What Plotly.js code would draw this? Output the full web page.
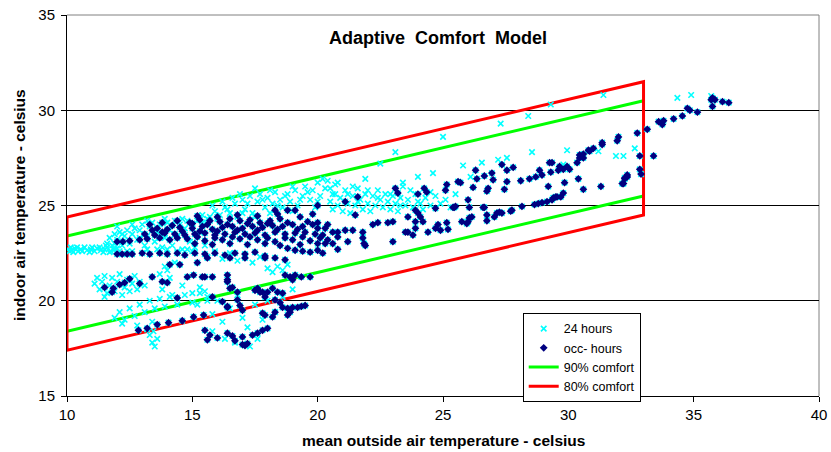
<!DOCTYPE html>
<html><head><meta charset="utf-8">
<script src="https://cdn.plot.ly/plotly-3.0.1.min.js"></script>
<style>html,body{margin:0;padding:0;background:#fff}#chart{width:831px;height:452px}</style>
</head><body><div id="chart"></div><script>
// ---- data ----
const xTicks = [10, 15, 20, 25, 30, 35, 40];
const yTicks = [15, 20, 25, 30, 35];

// 90% / 80% comfort limits at outside temperature 10 and 33
const comfortX = [10, 33];
const comfort90Upper = [23.4, 30.5];
const comfort90Lower = [18.4, 25.5];
const comfort80Upper = [24.4, 31.5];
const comfort80Lower = [17.4, 24.5];

// 24-hour points that are not occupied hours
const hours24Only = [
[10.05,22.7],[10.2,22.65],[10.3,22.75],[10.45,22.6],[10.55,22.7],[10.7,22.8],[10.8,22.65],[10.95,22.7],[11.1,22.6],[11.2,22.75],[11.35,22.65],[11.5,22.7],[11.6,22.8],[11.75,22.6],[11.85,22.7],[12.0,22.75],[10.15,22.8],[10.6,22.6],[11.0,22.8],[11.45,22.55],
[10.1,22.6],[10.4,22.8],[10.9,22.55],[11.3,22.8],[11.7,22.55],[12.1,22.6],[10.25,22.55],[11.55,22.9],[11.9,23.0],
[11.6,23.0],[11.7,23.3],[11.8,22.9],[11.9,23.5],[12.0,23.2],[12.1,23.6],[12.2,22.9],[12.3,23.4],[12.4,23.7],[12.5,23.0],[12.6,23.5],[12.7,23.8],[12.8,23.2],[12.9,23.7],[13.0,24.0],[13.1,22.9],[13.2,23.4],[13.3,23.9],[13.4,24.1],[13.5,23.1],[13.6,23.6],[13.7,24.0],[13.8,22.8],[13.9,23.3],[14.0,24.1],[14.1,23.7],[14.2,22.9],[14.3,24.2],[14.4,23.4],[14.5,24.0],[14.6,22.7],[14.7,23.8],[14.8,24.2],[14.9,23.1],[15.0,24.0],[15.1,22.8],[15.2,24.2],[15.3,23.6],[15.4,24.1],[15.5,22.9],[15.6,24.3],[12.2,23.5],[12.9,23.3],[13.6,22.7],[14.4,22.6],[15.0,22.6],[11.9,22.7],[12.6,22.6],
[12.0,23.9],[12.6,24.0],[13.2,24.2],[13.9,24.3],[14.6,24.3],[15.3,24.35],[12.4,22.6],[13.2,22.7],[14.0,22.7],[14.8,22.7],
[15.7,24.4],[15.9,24.7],[16.1,24.5],[16.3,24.9],[16.5,24.6],[16.7,25.1],[16.8,24.4],[17.0,25.3],[17.1,24.8],[17.3,25.5],[17.4,24.6],[17.6,25.2],[17.7,25.6],[17.9,24.9],[18.0,25.4],[18.2,25.1],[18.3,25.7],[18.5,25.3],[18.6,24.9],[18.8,25.6],[18.9,25.2],[19.1,25.8],[19.2,25.0],[19.4,25.5],[19.5,26.0],[19.7,25.3],[19.8,25.8],[20.0,26.2],[20.1,25.5],[20.3,25.9],[20.4,26.3],[20.6,25.6],[20.7,26.1],[16.2,25.2],[16.9,25.6],[17.5,25.9],[18.1,24.6],[19.0,24.7],[19.9,24.9],
[15.4,24.5],[15.8,25.0],[16.0,24.3],[16.4,24.8],[16.6,25.4],[17.0,24.6],[17.2,25.1],[17.5,24.4],[17.8,25.3],[18.1,25.8],[18.4,25.0],[18.7,25.5],[19.0,26.0],[19.3,25.3],[19.6,25.7],[20.0,25.2],[20.2,26.4],[20.5,25.9],[20.8,26.2],[21.2,25.6],[21.6,25.2],[22.0,25.8],[22.4,25.4],[22.9,25.6],[23.3,25.0],[23.7,25.8],[24.1,25.1],[24.5,25.7],
[20.5,25.2],[20.6,24.8],[20.7,25.6],[20.8,25.0],[20.9,25.4],[21.0,24.7],[21.1,25.8],[21.2,25.1],[21.3,24.6],[21.4,25.5],[21.5,25.0],[21.6,25.9],[21.7,25.3],[21.8,24.8],[21.9,25.6],[22.0,25.1],[22.1,24.7],[22.2,25.5],[22.3,25.0],[22.4,25.8],[22.5,25.3],[22.6,24.9],[22.7,25.6],[22.8,25.2],[22.9,24.8],[23.0,25.5],[23.1,25.1],[23.2,24.7],[23.3,25.4],[23.4,26.0],[23.5,25.0],[23.6,25.3],[23.8,24.9],[23.9,25.6],[24.0,25.2],[24.2,24.8],[24.3,25.4],[24.5,25.0],[24.7,25.5],[24.9,25.1],[25.1,25.3],[25.3,24.9],[25.5,25.6],
[11.1,20.9],[11.2,21.2],[11.3,20.6],[11.4,21.0],[11.5,21.3],[11.6,20.4],[11.7,20.8],[11.8,21.2],[11.9,20.5],[12.0,21.0],[12.1,21.4],[12.2,20.3],[12.3,20.7],[12.4,21.1],[12.5,20.5],[12.6,20.9],[12.7,21.3],[12.8,20.6],[11.5,20.2],[12.9,21.0],[13.1,20.8],
[13.7,21.4],[13.9,21.8],[14.1,21.2],[14.3,22.0],[14.0,21.6],[13.8,20.6],[14.2,20.3],[14.6,20.8],[15.0,20.4],[15.3,20.7],[15.6,20.2],
[11.9,19.1],[12.1,19.4],[12.3,19.0],[12.5,19.6],[12.7,19.2],[12.9,19.8],[13.1,19.4],[13.3,20.0],[13.5,19.6],[13.7,20.1],[13.9,19.7],[14.1,20.2],[14.4,19.8],[14.7,20.3],[15.0,19.9],[15.3,20.4],[15.6,20.0],[12.2,18.8],[12.8,18.7],[13.4,18.9],
[13.3,18.2],[13.4,17.8],[13.5,17.6],[13.6,18.0],[13.2,18.5],[13.45,18.4],
[15.6,22.3],[15.9,22.6],[16.2,22.2],[16.5,22.5],[16.8,22.1],[17.1,22.4],[17.4,22.0],[17.7,22.3],[18.0,21.7],[18.2,21.5],[18.4,21.8],[18.6,21.6],[18.8,21.9],
[15.2,19.8],[15.5,20.5],[15.8,19.3],[16.0,20.0],[16.2,18.9],[16.5,19.6],[16.8,20.3],[17.0,19.1],[17.2,18.6],[17.5,19.8],[17.8,19.0],[18.0,20.0],[18.3,19.4],[18.6,20.2],[19.0,20.6],[16.3,18.0],[16.7,17.8],[17.3,17.6],[17.6,18.0],[15.8,18.4],
[21.4,26.0],[21.9,26.4],[22.5,27.2],[23.1,27.8],[23.4,26.2],[24.0,26.5],[24.6,26.7],[25.0,28.6],[25.8,27.1],[26.1,26.5],[26.55,27.25],[27.2,27.4],[27.55,27.5],[27.3,29.3],[28.4,29.7],[28.55,27.8],[29.3,30.3],[29.8,27.15],[29.95,27.9],[31.2,27.85],[31.4,30.8],[31.9,27.6],[32.2,27.6],[32.65,28.0],[34.35,30.65],[34.9,30.8],[35.7,30.75]
];

// occupied hours (also part of the 24-hour series)
const occHours = [
[12.0,23.1],[12.23,23.1],[12.5,23.15],[12.9,23.2],[13.2,23.25],
[12.0,22.45],[12.2,22.45],[12.4,22.45],[12.6,22.45],
[13.0,22.5],[13.3,22.45],[13.7,22.5],[14.0,22.45],[14.4,22.5],[14.7,22.4],[15.1,22.5],[15.5,22.45],[15.9,22.5],[16.3,22.4],[16.7,22.5],[17.1,22.45],[17.5,22.55],[17.9,22.35],[18.3,22.25],
[13.3,24.0],[13.8,24.1],[14.4,24.2],[14.9,24.1],[15.3,24.25],[15.7,24.2],[16.1,24.15],[16.5,24.3],[16.9,24.2],[17.3,24.25],[17.7,24.1],[18.1,24.2],[18.5,24.3],
[13.6,23.8],[14.0,23.75],[14.5,23.85],[15.0,23.8],[15.4,23.9],[15.8,23.75],[16.2,23.85],[16.6,23.9],[17.0,23.8],[17.4,23.9],[17.8,23.85],[18.2,23.95],[18.6,23.9],[19.0,24.0],[19.4,23.9],[19.8,24.0],[20.0,23.8],
[13.1,23.5],[13.5,23.45],[13.9,23.55],[14.3,23.5],[14.7,23.45],[15.1,23.5],[15.5,23.55],[15.9,23.45],[16.3,23.5],[16.7,23.6],[17.1,23.5],[17.5,23.55],[17.9,23.45],[18.3,23.6],[18.7,23.5],[19.1,23.55],[19.5,23.6],[19.9,23.5],[20.2,23.45],
[14.1,23.2],[14.8,23.25],[15.5,23.15],[16.2,23.2],[16.9,23.25],[17.6,23.2],[18.3,23.1],[19.0,23.2],[19.7,23.15],[20.4,23.2],
[13.4,23.7],[13.8,23.6],[14.2,23.95],[14.6,23.65],[15.0,24.05],[15.3,23.65],[15.6,24.0],[16.0,23.65],[16.4,24.0],[16.8,23.7],[17.2,24.05],[17.6,23.7],[18.0,24.05],[18.4,23.75],[18.8,24.1],[19.2,23.75],[19.6,24.15],[20.0,24.1],[20.4,24.0],
[13.7,23.3],[14.4,23.3],[15.2,23.35],[15.9,23.3],[16.6,23.35],[17.3,23.35],[18.0,23.3],[18.7,23.3],[19.4,23.35],[20.1,23.3],[20.8,23.35],
[15.1,23.0],[15.8,22.95],[16.5,23.0],[17.2,22.95],[17.9,23.0],[18.5,22.9],[19.3,22.95],[20.0,23.0],
[15.2,24.45],[16.0,24.4],[16.8,24.5],[17.6,24.45],[18.4,24.55],[19.3,24.4],[19.8,24.55],
[18.8,22.75],[19.1,22.65],[19.4,22.6],[19.7,22.55],[20.0,22.65],[20.2,22.5],
[20.3,23.8],[20.6,23.6],[20.8,23.6],[21.1,23.7],[21.4,23.7],[21.8,23.6],[21.8,23.3],[21.85,23.0],[22.2,24.0],[22.4,24.1],[22.8,24.1],[23.0,24.15],
[20.3,23.0],[20.6,23.0],[20.8,22.7],[21.2,23.1],[21.9,22.9],[23.0,23.1],
[23.5,23.6],[23.8,23.45],[24.4,23.6],[24.7,23.8],[24.9,23.7],[25.2,23.75],
[21.5,24.5],[23.6,24.4],[23.9,24.75],[24.0,24.6],[24.1,24.4],[24.2,24.15],[23.9,24.15],[23.9,23.8],[23.6,23.6],[24.8,24.0],[25.15,24.1],[25.75,24.15],
[21.1,25.2],[21.6,25.45],[23.1,25.9],[23.2,25.65],[24.0,25.6],[24.25,25.9],[24.35,25.7],[25.15,26.1],[25.1,25.8],[25.6,26.25],[25.4,24.9],
[20.0,25.0],[18.3,24.75],[18.8,24.75],[19.1,24.75],
[24.7,24.85],[25.45,24.9],[26.05,24.9],[26.15,24.4],[26.0,24.15],[25.95,24.05],[26.6,24.9],[27.15,24.6],[27.25,24.65],[27.05,24.4],[26.75,24.5],[26.75,24.2],[27.7,24.7],[28.15,24.95],[28.8,25.1],[29.15,25.2],[29.5,25.45],[29.8,25.65],[29.2,26.0],[29.85,26.2],[30.4,26.4],[30.6,25.85],[31.3,26.0],[32.2,26.15],[32.25,26.45],[32.35,26.5],[32.85,26.9],[32.9,26.65],[32.85,27.6],[33.4,27.6],[33.15,29.0],[32.75,28.8],[32.0,28.6],[31.95,28.4],[31.35,28.3],[31.0,28.0],[30.85,27.85],[30.6,27.7],[30.45,27.5],[30.35,27.25],[29.95,27.05],[29.8,26.9],[29.65,27.05],[29.25,27.25],[29.35,27.25],[28.85,26.85],
[26.3,26.85],[26.35,26.4],[25.7,26.2],[26.65,26.55],[26.95,26.7],[27.35,27.15],[27.55,26.85],[27.8,27.0],[27.0,26.35],[26.8,25.9],[26.75,25.75],[27.55,26.25],[27.45,25.85],[28.1,26.3],[28.45,26.4],[28.7,26.5],[28.95,26.6],[29.3,26.75],[29.6,26.85],[30.05,26.9],
[29.7,25.45],[29.55,25.45],[29.4,25.4],[29.35,25.3],[28.95,25.15],[28.65,25.05],[27.75,24.75],[27.35,24.6],[26.65,24.9],[26.05,24.35],[26.0,25.3],[25.5,24.95],[26.2,25.95],
[30.45,27.65],[30.6,27.5],[30.8,27.9],[31.35,28.2],
[33.6,29.4],[33.75,29.25],[33.8,29.45],[34.2,29.55],[34.55,29.7],[34.75,30.1],[34.85,30.0],[35.15,29.9],[35.7,30.55],[35.75,30.65],[35.85,30.55],[35.75,30.2],[36.15,30.45],[36.4,30.4],
[32.35,26.6],[32.25,26.4],[32.15,26.15],
[15.4,21.25],[15.8,21.25],[16.4,21.35],[18.7,21.35],[19.1,21.35],[19.35,21.25],[16.4,21.0],[16.6,20.7],[16.8,20.45],[17.5,20.55],[17.8,20.45],[18.2,20.65],[18.4,20.45],[18.6,20.4],
[17.9,20.2],[18.3,20.05],[18.5,19.9],[18.6,19.65],[18.8,19.6],[19.0,19.65],[19.2,19.65],[19.35,19.7],[19.5,19.75],
[16.4,19.65],[17.0,19.5],[17.8,19.35],[18.2,19.15],
[15.5,18.45],[16.0,18.05],[16.4,18.3],[16.7,17.9],[17.1,17.65],[17.4,18.2],[17.6,18.3],[17.8,18.45],[18.0,18.55],[15.6,17.95],[15.7,18.2],[16.6,18.15],[17.0,18.1],[17.0,17.7],[17.2,17.75],
[12.85,18.45],[13.2,18.55],[13.6,18.75],[14.05,18.85],[14.6,18.95],[15.05,19.15],[15.45,19.25],
[14.4,20.15],[15.8,20.2],[16.2,19.95],[16.4,19.7],[16.8,20.05],[16.9,19.75],[17.6,20.65],[17.7,20.45],[18.0,20.45],[18.9,21.25],[19.0,21.1],[19.7,21.25],[17.9,19.25],[18.3,19.4],[18.9,19.4],[18.8,19.25],
[13.4,21.25],[14.8,21.25],[15.05,21.35],[15.5,21.25],
[11.5,20.7],[11.8,20.45],[11.85,20.65],[12.1,20.85],[12.3,20.95],[12.5,21.15],[12.9,20.9],[13.8,21.0],[14.0,20.95],[16.4,21.1],[16.5,20.65],
[14.1,21.9],[14.5,21.9],[15.2,22.0],
[15.6,22.25],[16.5,22.25],[17.1,22.25],[17.9,22.25],[18.7,22.15]
];

// ---- traces ----
const col = (arr, i) => arr.map(p => p[i]);
const all24 = hours24Only.concat(occHours);

const font = 'Arial, "Liberation Sans", sans-serif';

const traces = [
  { // 90% comfort: two separate lines
    name: '90% comfort', type: 'scatter', mode: 'lines', legendrank: 3,
    x: [comfortX[0], comfortX[1], null, comfortX[0], comfortX[1]],
    y: [comfort90Upper[0], comfort90Upper[1], null, comfort90Lower[0], comfort90Lower[1]],
    line: { color: '#00ff00', width: 3 }, connectgaps: false, hoverinfo: 'skip'
  },
  { // 80% comfort: closed box
    name: '80% comfort', type: 'scatter', mode: 'lines', legendrank: 4,
    x: [comfortX[0], comfortX[1], comfortX[1], comfortX[0], comfortX[0]],
    y: [comfort80Upper[0], comfort80Upper[1], comfort80Lower[1], comfort80Lower[0], comfort80Upper[0]],
    line: { color: '#ff0000', width: 3 }, hoverinfo: 'skip'
  },
  {
    name: '24 hours', type: 'scatter', mode: 'markers', legendrank: 1,
    x: col(all24, 0), y: col(all24, 1),
    marker: { symbol: 'x-thin-open', size: 5.5, color: '#00ffff', line: { color: '#00ffff', width: 1.6 } }
  },
  {
    name: 'occ- hours', type: 'scatter', mode: 'markers', legendrank: 2,
    x: col(occHours, 0), y: col(occHours, 1),
    marker: { symbol: 'diamond', size: 6, color: '#000080', line: { width: 0 } }
  }
];

const layout = {
  width: 831, height: 452,
  margin: { l: 67, r: 12, t: 15, b: 56 },
  paper_bgcolor: '#ffffff', plot_bgcolor: '#ffffff',
  font: { family: font, size: 15, color: '#000' },
  showlegend: true,
  xaxis: {
    range: [10, 40], tickvals: xTicks, ticktext: xTicks.map(String),
    showgrid: false, zeroline: false, showline: true, linecolor: '#000', linewidth: 1,
    ticks: 'outside', ticklen: 5, tickcolor: '#000', tickwidth: 1,
    tickfont: { family: font, size: 15, color: '#000' }, fixedrange: true
  },
  yaxis: {
    range: [15, 35], tickvals: yTicks, ticktext: yTicks.map(String),
    showgrid: true, gridcolor: '#000', gridwidth: 1,
    zeroline: false, showline: true, linecolor: '#000', linewidth: 1,
    ticks: 'outside', ticklen: 5, tickcolor: '#000', tickwidth: 1, ticklabelstandoff: 3,
    tickfont: { family: font, size: 15, color: '#000' }, fixedrange: true
  },
  legend: {
    x: 0.606, y: 0.218, xanchor: 'left', yanchor: 'top',
    bgcolor: '#ffffff', bordercolor: '#000', borderwidth: 1,
    font: { family: font, size: 12.5, color: '#000' },
    tracegroupgap: 0, itemwidth: 30
  },
  shapes: [
    { type: 'line', xref: 'paper', yref: 'paper', x0: 0, x1: 1, y0: 1, y1: 1, line: { color: '#808080', width: 1 }, layer: 'below' },
    { type: 'line', xref: 'paper', yref: 'paper', x0: 1, x1: 1, y0: 0, y1: 1, line: { color: '#808080', width: 1 }, layer: 'below' }
  ],
  annotations: [
    { text: '<b>Adaptive\u00a0\u00a0Comfort\u00a0\u00a0Model</b>', xref: 'paper', yref: 'paper', x: 0.493, y: 0.94,
      xanchor: 'center', yanchor: 'middle', showarrow: false, font: { family: font, size: 18, color: '#000' } },
    { text: '<b>mean outside air temperature - celsius</b>', xref: 'paper', yref: 'paper', x: 0.5, y: 0,
      xanchor: 'center', yanchor: 'top', yshift: -34, showarrow: false, font: { family: font, size: 15.5, color: '#000' } },
    { text: '<b>indoor air temperature - celsius</b>', xref: 'paper', yref: 'paper', x: 0, y: 0.5,
      xanchor: 'right', yanchor: 'middle', xshift: -37, textangle: -90, showarrow: false, font: { family: font, size: 15.5, color: '#000' } }
  ]
};

Plotly.newPlot('chart', traces, layout, { staticPlot: true, displayModeBar: false });
</script></body></html>
